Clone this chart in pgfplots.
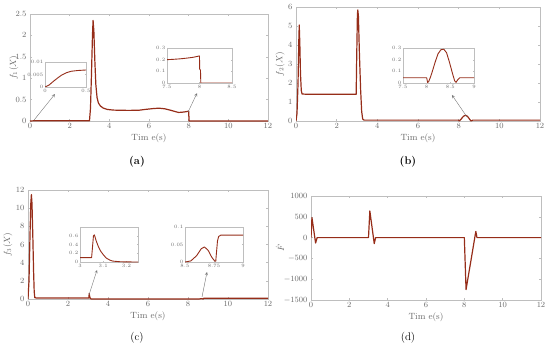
\documentclass[border=0pt]{standalone}
\usepackage{pgfplots}
\pgfplotsset{compat=1.18}
\usepackage{pgfplotstable}
\definecolor{axgray}{RGB}{190,190,190}
\definecolor{labgray}{RGB}{105,105,105}
\definecolor{curve}{RGB}{150,45,25}
\definecolor{arrgray}{RGB}{120,120,120}

\pgfplotstableread{
t v
0 0
0.05 0.0008
0.1 0.0022
0.15 0.0035
0.2 0.0047
0.26 0.0057
0.32 0.0063
0.4 0.0066
0.5 0.0068
1 0.007
3.0 0.007
3.05 0.3
3.1 1.1
3.15 2.0
3.18 2.35
3.22 2.1
3.27 1.4
3.32 0.85
3.38 0.55
3.45 0.42
3.55 0.35
3.7 0.3
3.9 0.27
4.2 0.255
4.6 0.25
5.0 0.248
5.5 0.252
5.8 0.27
6.2 0.29
6.5 0.3
6.8 0.285
7.1 0.25
7.4 0.21
7.5 0.2
7.6 0.203
7.7 0.207
7.8 0.213
7.9 0.22
8.0 0.232
8.002 0.12
8.015 0.11
8.02 0
12 0
}\dataA

\pgfplotstableread{
t v
0 0
0.05 0.4
0.1 2.0
0.14 4.3
0.16 5.05
0.19 4.0
0.22 2.5
0.26 1.6
0.3 1.42
0.5 1.41
2.96 1.41
2.98 3.0
3.02 5.6
3.04 5.85
3.07 5.5
3.12 3.5
3.18 1.6
3.23 0.5
3.28 0.1
3.35 0.045
8.0 0.045
8.02 0.005
8.04 0.01
8.08 0.05
8.12 0.1
8.18 0.18
8.24 0.25
8.3 0.285
8.36 0.29
8.42 0.26
8.48 0.18
8.54 0.09
8.59 0.02
8.62 0.005
8.66 0.03
8.7 0.045
12 0.045
}\dataB

\pgfplotstableread{
t v
0 0
0.05 2
0.1 7
0.14 10.5
0.17 11.5
0.2 10.5
0.24 7
0.28 3
0.31 0.8
0.34 0.15
0.4 0.12
3.0 0.1
3.05 0.1
3.058 0.6
3.062 0.62
3.07 0.48
3.08 0.34
3.09 0.24
3.1 0.17
3.113 0.09
3.13 0.04
3.142 0.02
3.17 0.007
3.2 0.002
3.25 0
8.5 0
8.55 0.003
8.6 0.018
8.64 0.038
8.668 0.043
8.7 0.033
8.73 0.014
8.755 0.003
8.765 0.002
8.772 0.03
8.78 0.06
8.79 0.073
8.81 0.077
9 0.077
12 0.077
}\dataC

\pgfplotstableread{
t v
0 0
0.05 480
0.24 -130
0.32 0
3.0 0
3.07 640
3.3 -145
3.37 0
8.0 0
8.09 -1250
8.6 150
8.66 0
12 0
}\dataD

\tikzset{
  arr/.style={draw=arrgray, line width=0.4pt, -stealth},
  mline/.style={color=curve, line width=1.2pt, line join=round},
  iline/.style={color=curve, line width=0.9pt, line join=round},
}
\pgfplotsset{
  mainax/.style={
    scale only axis, anchor=south west,
    xmin=0, xmax=12, xtick={0,2,...,12},
    axis line style={draw=axgray},
    tick style={draw=axgray, thin},
    tick align=inside, major tick length=2pt,
    ticklabel style={font=\fontsize{8.5}{9}\selectfont, text=labgray,
      /pgf/number format/set thousands separator={}},
    label style={font=\fontsize{9}{10}\selectfont, text=labgray},
    xlabel={Tim e(s)},
    xlabel style={yshift=2pt},
    scaled ticks=false,
    xticklabel style={yshift=1pt},
  },
  yl/.style={ylabel style={at={(axis description cs:0,0.5)}, anchor=center, yshift=#1}},
  inax/.style={
    scale only axis, anchor=south west,
    axis background/.style={fill=white},
    axis line style={draw=axgray},
    tick style={draw=axgray, very thin},
    tick align=inside, major tick length=1pt,
    ticklabel style={font=\fontsize{4.8}{5}\selectfont, text=labgray, inner sep=1pt},
    scaled ticks=false,
    yticklabel style={/pgf/number format/fixed, /pgf/number format/precision=3, xshift=-0.5pt},
    xticklabel style={/pgf/number format/fixed, /pgf/number format/precision=3, yshift=-0.8pt},
  },
}

\begin{document}
\begin{tikzpicture}[x=1pt,y=1pt]
\path[use as bounding box] (0,0) rectangle (550,349);

% ---------- (a)
\begin{axis}[mainax, at={(30pt,228pt)}, width=238pt, height=107pt,
  ymin=0, ymax=2.5, ytick={0,0.5,...,2.5}, ylabel={$f_1(X)$}, yl=16pt]
\addplot[mline] table[x=t,y=v] {\dataA};
\draw[arr] (axis cs:0.2,0.02) -- (axis cs:1.26,0.63);
\draw[arr] (axis cs:7.97,0.21) -- (axis cs:8.42,0.65);
\end{axis}
\begin{axis}[inax, at={(45pt,262pt)}, width=41pt, height=25pt,
  xmin=0, xmax=0.5, ymin=0, ymax=0.01, xtick={0,0.5}, ytick={0,0.005,0.01}]
\addplot[iline] table[x=t,y=v] {\dataA};
\end{axis}
\begin{axis}[inax, at={(167pt,266pt)}, width=65pt, height=35pt,
  xmin=7.5, xmax=8.5, ymin=0, ymax=0.3, xtick={7.5,8,8.5}, ytick={0,0.1,0.2,0.3}]
\addplot[iline] table[x=t,y=v] {\dataA};
\end{axis}
\node[font=\bfseries\fontsize{11}{12}\selectfont] at (137,187) {(a)};

% ---------- (b)
\begin{axis}[mainax, at={(296pt,228pt)}, width=244pt, height=114pt,
  ymin=0, ymax=6, ytick={0,1,...,6}, ylabel={$f_2(X)$}, yl=16pt]
\addplot[mline] table[x=t,y=v] {\dataB};
\draw[arr] (axis cs:8.41,0.21) -- (axis cs:7.67,1.37);
\end{axis}
\begin{axis}[inax, at={(403pt,266pt)}, width=71pt, height=35pt,
  xmin=7.5, xmax=9, ymin=0, ymax=0.3, xtick={7.5,8,8.5,9}, ytick={0,0.1,0.2,0.3}]
\addplot[iline] table[x=t,y=v] {\dataB};
\end{axis}
\node[font=\bfseries\fontsize{11}{12}\selectfont] at (408,187) {(b)};

% ---------- (c)
\begin{axis}[mainax, at={(28pt,50pt)}, width=240pt, height=109pt,
  ymin=0, ymax=12, ytick={0,2,...,12}, ylabel={$f_3(X)$}, yl=20pt]
\addplot[mline] table[x=t,y=v] {\dataC};
\draw[arr] (axis cs:3.05,0.44) -- (axis cs:3.45,3.19);
\draw[arr] (axis cs:8.7,0.22) -- (axis cs:8.95,2.97);
\end{axis}
\begin{axis}[inax, at={(80pt,87pt)}, width=58pt, height=35pt,
  xmin=3, xmax=3.25, ymin=0, ymax=0.8, xtick={3,3.1,3.2}, ytick={0,0.2,0.4,0.6}]
\addplot[iline] table[x=t,y=v] {\dataC};
\end{axis}
\begin{axis}[inax, at={(185pt,87pt)}, width=58pt, height=35pt,
  xmin=8.5, xmax=9, ymin=0, ymax=0.1, xtick={8.5,8.75,9}, ytick={0,0.05,0.1}]
\addplot[iline] table[x=t,y=v] {\dataC};
\end{axis}
\node[font=\fontsize{11}{12}\selectfont] at (137,11) {(c)};

% ---------- (d)
\begin{axis}[mainax, at={(311pt,49pt)}, width=230pt, height=104pt,
  ymin=-1500, ymax=1000, ytick={-1500,-1000,...,1000}, ylabel={$\dot{F}$}, yl=31pt]
\addplot[mline] table[x=t,y=v] {\dataD};
\end{axis}
\node[font=\fontsize{11}{12}\selectfont] at (408,11) {(d)};
\end{tikzpicture}
\end{document}
